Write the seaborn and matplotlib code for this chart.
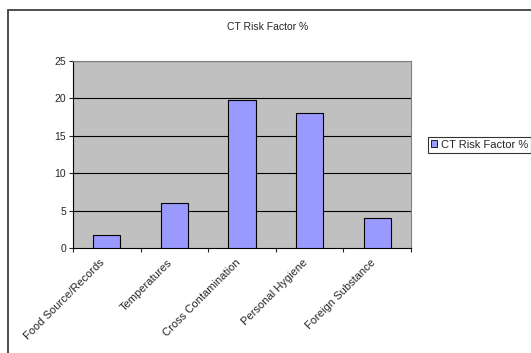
import pandas as pd
import seaborn as sns
import matplotlib.pyplot as plt
import matplotlib.transforms as mtransforms
from matplotlib.patches import Rectangle, Patch

categories = ['Food Source/Records', 'Temperatures', 'Cross Contamination',
              'Personal Hygiene', 'Foreign Substance']
values = [1.7, 6.0, 19.8, 18.0, 4.0]
series_name = 'CT Risk Factor %'
yticks = [0, 5, 10, 15, 20, 25]

df = pd.DataFrame({'Category': categories, 'Value': values})

sns.set_style('white')
plt.rcParams['font.family'] = ['Liberation Sans', 'DejaVu Sans']

W, H = 531, 353
fig = plt.figure(figsize=(W / 100, H / 100), dpi=100)

# outer chart frame (cut off at right and bottom)
fig.add_artist(Rectangle((8 / W, -0.1), 1.2, 1.1 - 10 / H, transform=fig.transFigure,
                         fill=False, edgecolor='#404040', linewidth=1.3))

ax = fig.add_axes([73 / W, 1 - 248 / H, (411 - 73) / W, (248 - 61) / H])
ax.set_facecolor('#C0C0C0')
sns.barplot(ax=ax, data=df, x='Category', y='Value', color='#9999FF',
            saturation=1, width=0.4, edgecolor='black', linewidth=0.8, zorder=3)

ax.set_ylim(0, 25)
ax.set_xlim(-0.5, len(categories) - 0.5)
ax.set_yticks(yticks)
ax.set_yticklabels([str(t) for t in yticks], fontsize=7.5)
for t in yticks[1:]:
    ax.axhline(t, color='black', linewidth=0.8, zorder=1)

ax.set_xticks([i - 0.5 for i in range(len(categories) + 1)])
ax.set_xticklabels([])
ax.set_xticks(range(len(categories)), minor=True)
ax.set_xticklabels(categories, minor=True, rotation=45, ha='right',
                   rotation_mode='anchor', fontsize=8)
ax.tick_params(axis='x', which='minor', length=0, pad=7)
ax.tick_params(axis='x', which='major', length=3, width=0.8, direction='out', bottom=True)
ax.tick_params(axis='y', length=3, width=0.8, direction='out', left=True, pad=2)
shift = mtransforms.ScaledTranslation(-7 / 100, 0, fig.dpi_scale_trans)
for lab in ax.get_xticklabels(minor=True):
    lab.set_transform(lab.get_transform() + shift)
ax.set_xlabel('')
ax.set_ylabel('')
for side in ['top', 'right']:
    ax.spines[side].set_color('#808080')
    ax.spines[side].set_linewidth(0.8)
for side in ['left', 'bottom']:
    ax.spines[side].set_color('black')
    ax.spines[side].set_linewidth(0.8)

fig.text(268 / W, 1 - 27 / H, series_name, ha='center', va='center', fontsize=7.5)

handle = Patch(facecolor='#9999FF', edgecolor='black', linewidth=0.6)
leg = fig.legend([handle], [series_name], loc='upper left',
                 bbox_to_anchor=(428 / W, 1 - 137 / H), fontsize=8, frameon=True,
                 fancybox=False, handlelength=0.6, handleheight=0.6,
                 handletextpad=0.3, borderpad=0.25, borderaxespad=0)
leg.get_frame().set_edgecolor('black')
leg.get_frame().set_linewidth(0.8)

fig.savefig('out.png', dpi=100)
